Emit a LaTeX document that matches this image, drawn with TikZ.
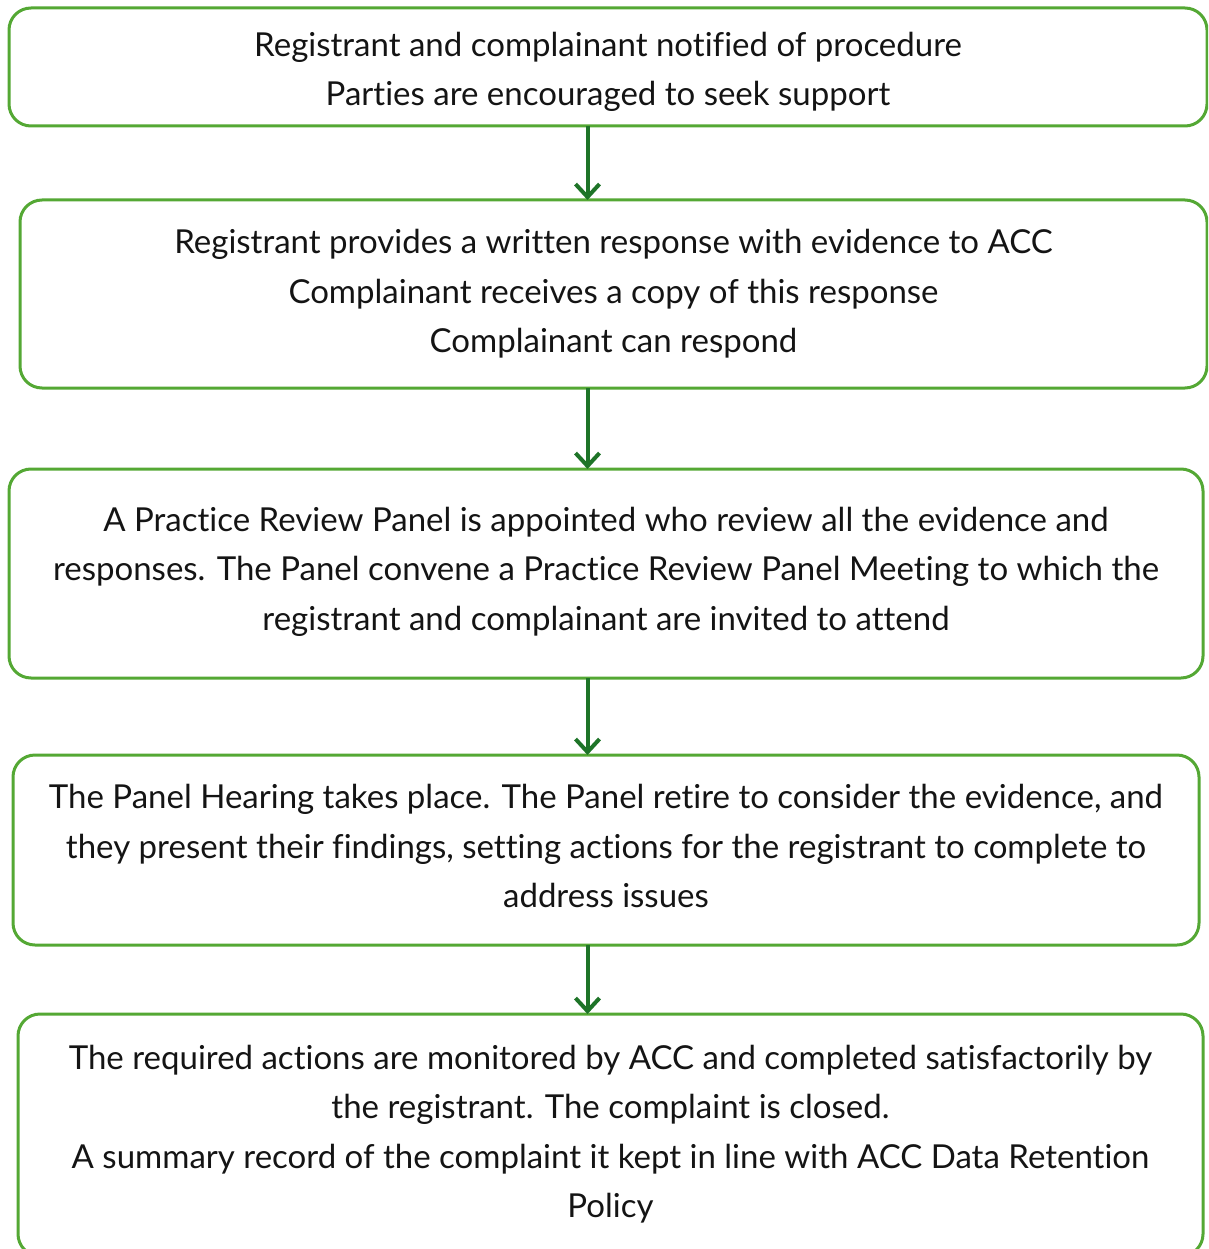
\documentclass[tikz,border=0pt]{standalone}
\usepackage{fontspec}
\setmainfont{Lato}[Ligatures=CommonOff]
\usetikzlibrary{arrows.meta}
\definecolor{boxgreen}{RGB}{84,168,52}
\definecolor{arrgreen}{RGB}{30,116,40}
\definecolor{txt}{RGB}{20,20,20}
\begin{document}
\begin{tikzpicture}[x=1pt,y=-1pt,
  stepbox/.style={draw=boxgreen, line width=3pt, rounded corners=22pt, inner sep=0pt, outer sep=0pt},
  steptext/.style={align=center, text=txt, font=\fontsize{33}{49.5}\selectfont, inner sep=0pt},
  flowarr/.style={draw=arrgreen, line width=4pt, -{Straight Barb[length=13pt,width=24pt]}}]
\useasboundingbox (0,0) rectangle (1208,1249);
\begin{scope}
\clip (0,0) rectangle (1208,1249);
\node[stepbox, minimum width=1198pt, minimum height=118pt] (b1) at (608,67) {};
\node[stepbox, minimum width=1187pt, minimum height=188pt] (b2) at (613.5,294) {};
\node[stepbox, minimum width=1194pt, minimum height=209pt] (b3) at (606,573.5) {};
\node[stepbox, minimum width=1186pt, minimum height=190pt] (b4) at (606,850) {};
\node[stepbox, minimum width=1185pt, minimum height=242pt] (b5) at (610.5,1135) {};
\end{scope}
\node[steptext] (t1) at ([yshift=-5pt]b1.center)
  {Registrant and complainant notified of procedure\\Parties are encouraged to seek support};
\node[steptext] (t2) at (b2.center)
  {Registrant provides a written response with evidence to ACC\\Complainant receives a copy of this response\\Complainant can respond};
\node[steptext] (t3) at ([yshift=2pt]b3.center)
  {A Practice Review Panel is appointed who review all the evidence and\\responses. The Panel convene a Practice Review Panel Meeting to which the\\registrant and complainant are invited to attend};
\node[steptext] (t4) at ([yshift=4pt]b4.center)
  {The Panel Hearing takes place. The Panel retire to consider the evidence, and\\they present their findings, setting actions for the registrant to complete to\\address issues};
\node[steptext] (t5) at ([yshift=1pt]b5.center)
  {The required actions are monitored by ACC and completed satisfactorily by\\the registrant. The complaint is closed.\\A summary record of the complaint it kept in line with ACC Data Retention\\Policy};
\coordinate (ax) at (587.5,0);
\draw[flowarr] (b1.south -| ax) -- (b2.north -| ax);
\draw[flowarr] (b2.south -| ax) -- (b3.north -| ax);
\draw[flowarr] (b3.south -| ax) -- (b4.north -| ax);
\draw[flowarr] (b4.south -| ax) -- (b5.north -| ax);
\end{tikzpicture}
\end{document}
